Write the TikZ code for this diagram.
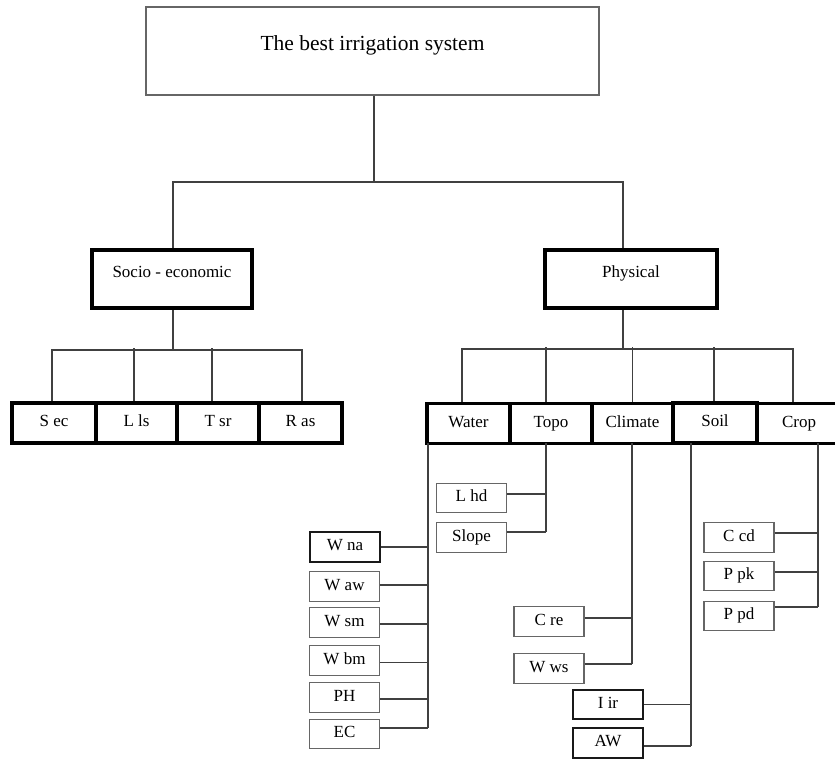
\documentclass[tikz,border=0pt]{standalone}
\usepackage{fontspec}
\setmainfont{Liberation Serif}
\begin{document}
\begin{tikzpicture}[x=1pt,y=-1pt,
  base/.style={inner sep=0pt, font=\fontsize{17}{19}\selectfont, fill=white},
  topbox/.style={base, draw=black!60, line width=1.2pt, font=\fontsize{21.5}{24}\selectfont},
  l1/.style={base, draw=black, line width=4pt},
  l2/.style={base, draw=black, line width=3.8pt, minimum height=40pt, text height=11pt, text depth=3.5pt},
  l2m/.style={l2, line width=3.2pt},
  leaf/.style={base, draw=black!60, line width=1.3pt, minimum width=70pt, minimum height=29.5pt, text height=11pt, text depth=3.5pt},
  leafb/.style={leaf, draw=black!90, line width=2pt},
  conn/.style={draw=black!75, line width=1.1pt},
]
\useasboundingbox (0,0) rectangle (835,758);

% ---- top
\node[topbox, minimum width=453pt, text height=43pt, text depth=45pt] (top) at (372.5,51) {The best irrigation system};

% ---- level 1
\node[l1, minimum width=160pt, text height=27pt, text depth=31pt] (socio) at (172,279) {Socio - economic};
\node[l1, minimum width=172pt, text height=27pt, text depth=31pt] (phys) at (631,279) {Physical};

% ---- socio-economic children
\node[l2, minimum width=84pt] (sec) at (54,423) {S ec};
\node[l2m, minimum width=81pt] (lls) at (136.5,423) {L ls};
\node[l2, minimum width=82pt] (tsr) at (218,423) {T sr};
\node[l2m, minimum width=83pt] (ras) at (300.5,423) {R as};

% ---- physical children
\node[l2, minimum width=83pt] (water) at (468.5,423.5) {Water};
\node[l2, minimum width=82pt] (topo) at (551,423.5) {Topo};
\node[l2, minimum width=81pt] (climate) at (632.5,423.5) {Climate};
\node[l2, minimum width=84pt] (soil) at (715,423) {Soil};
\node[l2, minimum width=84pt] (crop) at (799,423.5) {Crop};

% ---- water leaves
\node[leafb] (wna) at (345,547) {W na};
\node[leaf] (waw) at (344.5,586.5) {W aw};
\node[leaf] (wsm) at (344.5,622.5) {W sm};
\node[leaf] (wbm) at (344.5,660.5) {W bm};
\node[leaf] (ph) at (344.5,697.5) {PH};
\node[leaf] (ec) at (344.5,734) {EC};

% ---- topo leaves
\node[leaf] (lhd) at (471.5,498) {L hd};
\node[leaf] (slope) at (471.5,537.5) {Slope};

% ---- climate leaves
\node[leaf] (cre) at (549,621.5) {C re};
\node[leaf] (wws) at (549,668.5) {W ws};

% ---- soil leaves
\node[leafb] (iir) at (608,704.5) {I ir};
\node[leafb] (aw) at (608,743) {AW};

% ---- crop leaves
\node[leaf] (ccd) at (739,537.5) {C cd};
\node[leaf] (ppk) at (739,576) {P pk};
\node[leaf] (ppd) at (739,616) {P pd};

% ---- connectors: top level
\coordinate (tb) at (374,182);
\draw[conn] (top.south -| tb) -- (tb);
\draw[conn] ([xshift=1pt]socio.north) |- (tb);
\draw[conn] ([xshift=-8pt]phys.north) |- (tb);

% ---- socio-economic bus
\coordinate (sb) at (173,350);
\draw[conn] (socio.south -| sb) -- (sb);
\draw[conn] ([xshift=-2pt]sec.north) |- (sb);
\draw[conn] ([xshift=1.5pt]ras.north) |- (sb);
\draw[conn] ([xshift=-2.5pt]lls.north) -- ++(0,-53);
\draw[conn] ([xshift=-6pt]tsr.north) -- ++(0,-53);

% ---- physical bus
\coordinate (pb) at (623,349);
\draw[conn] (phys.south -| pb) -- (pb);
\draw[conn] ([xshift=-6.5pt]water.north) |- (pb);
\draw[conn] ([xshift=-6pt]crop.north) |- (pb);
\draw[conn] ([xshift=-5pt]topo.north) -- ++(0,-55);
\draw[conn] (climate.north) -- ++(0,-55);
\draw[conn] ([xshift=-1pt]soil.north) -- ++(0,-54);

% ---- water subtree
\coordinate (wv) at (428,443);
\draw[conn] (wv) -- ++(0,285) coordinate (wend);
\draw[conn] (wna.east) -- (wna.east -| wv);
\draw[conn] ([yshift=1.5pt]waw.east) -- ++(48,0);
\draw[conn] ([yshift=-1.5pt]wsm.east) -- ++(48,0);
\draw[conn] ([yshift=-2pt]wbm.east) -- ++(48,0);
\draw[conn] ([yshift=-1.5pt]ph.east) -- ++(48,0);
\draw[conn] ([yshift=6pt]ec.east) -- (wend);

% ---- topo subtree
\coordinate (tv) at (546,443);
\draw[conn] (tv) -- ++(0,89) coordinate (tend);
\draw[conn] ([yshift=4pt]lhd.east) -- ++(39.5,0);
\draw[conn] ([yshift=5.5pt]slope.east) -- (tend);

% ---- climate subtree
\coordinate (cv) at (632,443);
\draw[conn] (cv) -- ++(0,221) coordinate (cend);
\draw[conn] ([yshift=3.5pt]cre.east) -- ++(48,0);
\draw[conn] ([yshift=4.5pt]wws.east) -- (cend);

% ---- soil subtree
\coordinate (sv) at (691,443);
\draw[conn] (sv) -- ++(0,303) coordinate (send);
\draw[conn] (iir.east) -- ++(48,0);
\draw[conn] ([yshift=-3pt]aw.east) -- (send);

% ---- crop subtree
\coordinate (cr) at (818,443);
\draw[conn] (cr) -- ++(0,164) coordinate (crend);
\draw[conn] ([yshift=4.5pt]ccd.east) -- ++(44,0);
\draw[conn] ([yshift=4pt]ppk.east) -- ++(44,0);
\draw[conn] ([yshift=9pt]ppd.east) -- (crend);
\end{tikzpicture}
\end{document}
